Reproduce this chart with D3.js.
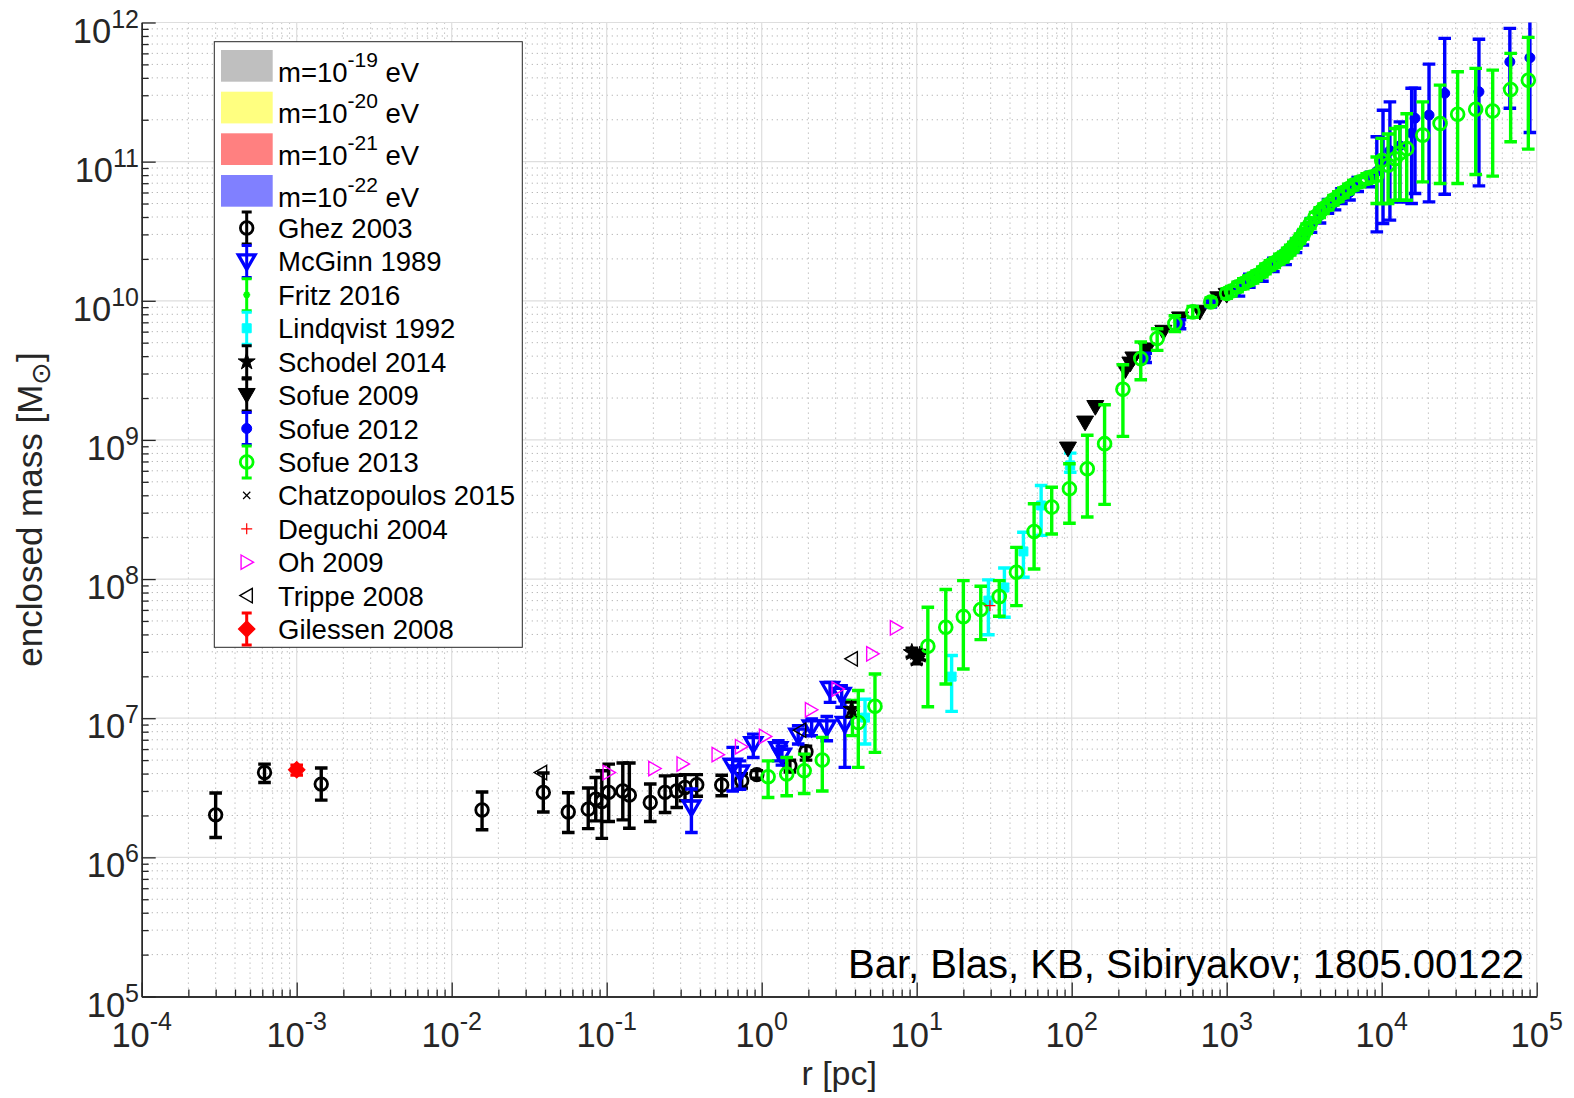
<!DOCTYPE html>
<html>
<head>
<meta charset="utf-8">
<script src="https://cdn.jsdelivr.net/npm/d3@7"></script>
<style>
  body { margin: 0; background: #fff; }
  svg { display: block; }
  text { font-family: "Liberation Sans", Arial, Helvetica, sans-serif; }
</style>
</head>
<body>
<svg id="chart" width="1574" height="1098"></svg>
<script>
// Enclosed mass of the Milky Way vs. radius — compiled measurements.
// Each row: [r (pc), M (Msun), M lower, M upper]; rows without bounds have no error bar.

const ghez2003 = [
  [3.0e-4, 2.02e6, 1.39e6, 2.90e6], [6.2e-4, 4.07e6, 3.45e6, 4.68e6], [1.44e-3, 3.36e6, 2.58e6, 4.39e6],
  [0.0157, 2.19e6, 1.58e6, 2.95e6], [0.039, 2.93e6, 2.12e6, 4.04e6], [0.0565, 2.12e6, 1.51e6, 2.91e6],
  [0.076, 2.22e6, 1.61e6, 3.15e6], [0.085, 2.62e6, 1.83e6, 3.75e6], [0.093, 2.52e6, 1.37e6, 4.19e6],
  [0.103, 2.93e6, 1.81e6, 4.68e6], [0.127, 3.00e6, 1.86e6, 4.76e6], [0.14, 2.80e6, 1.62e6, 4.76e6],
  [0.191, 2.48e6, 1.81e6, 3.37e6], [0.238, 2.93e6, 2.10e6, 3.85e6], [0.283, 3.00e6, 2.28e6, 3.89e6],
  [0.32, 3.18e6, 2.55e6, 3.93e6], [0.381, 3.33e6, 2.75e6, 3.93e6], [0.552, 3.31e6, 2.77e6, 3.89e6],
  [0.743, 3.55e6, 3.15e6, 4.00e6], [0.93, 3.93e6, 3.70e6, 4.20e6], [1.52, 4.55e6, 4.10e6, 5.00e6],
  [1.93, 5.74e6, 5.00e6, 6.30e6]
];

const mcginn1989 = [
  [0.352, 2.28e6, 1.51e6, 3.10e6], [0.65, 4.55e6, 3.00e6, 6.17e6], [0.725, 4.07e6, 3.09e6, 4.94e6],
  [0.883, 6.50e6, 5.22e6, 7.69e6], [1.28, 6.00e6, 4.94e6, 6.89e6], [1.35, 5.37e6, 4.60e6, 6.30e6],
  [1.72, 7.48e6, 6.52e6, 8.83e6], [2.10, 8.60e6, 7.48e6, 9.86e6], [2.63, 8.60e6, 6.89e6, 1.03e7],
  [2.76, 1.62e7, 1.30e7, 1.81e7], [3.28, 1.47e7, 1.20e7, 1.71e7], [3.44, 9.10e6, 4.43e6, 1.34e7]
];

const fritz2016 = [
  [3.85, 1.05e7, 7.5e6, 1.34e7]
];

const lindqvist1992 = [
  [4.64, 1.01e7, 6.52e6, 1.37e7], [16.8, 1.99e7, 1.12e7, 2.82e7], [29.0, 7.00e7, 3.98e7, 9.86e7],
  [36.8, 8.70e7, 5.31e7, 1.20e8], [48.8, 1.58e8, 1.03e8, 2.17e8], [63.5, 3.38e8, 2.06e8, 4.71e8],
  [97.8, 6.56e8, 5.86e8, 8.04e8]
];

const schodel2014 = [
  [3.80, 1.16e7, 1.02e7, 1.30e7], [9.3, 2.97e7, 2.75e7, 3.20e7], [10.0, 2.67e7, 2.45e7, 2.90e7],
  [10.5, 2.85e7, 2.62e7, 3.08e7]
];

const sofue2009 = [
  [94.6, 8.65e8], [122, 1.33e9], [142, 1.72e9], [222, 3.16e9], [239, 3.53e9], [250, 3.84e9],
  [305, 4.46e9], [390, 5.97e9], [500, 7.45e9], [671, 8.32e9], [883, 1.04e10], [1000, 1.10e10]
];

const sofue2012 = [
  [300, 3.90e9, 3.6e9, 4.2e9], [500, 6.80e9, 6.3e9, 7.3e9], [790, 9.6e9, 9.0e9, 1.02e10],
  [1200, 1.22e10, 1.08e10, 1.36e10], [1400, 1.40e10, 1.25e10, 1.55e10], [1700, 1.55e10, 1.38e10, 1.72e10],
  [2000, 1.82e10, 1.62e10, 2.02e10], [2400, 2.05e10, 1.82e10, 2.28e10], [2800, 2.50e10, 2.22e10, 2.78e10],
  [3100, 2.85e10, 2.52e10, 3.18e10], [3500, 3.50e10, 3.10e10, 3.90e10], [4000, 4.10e10, 3.62e10, 4.58e10],
  [4500, 4.80e10, 4.25e10, 5.35e10], [5000, 5.10e10, 4.50e10, 5.70e10], [5500, 5.70e10, 5.0e10, 6.4e10],
  [6200, 6.00e10, 5.3e10, 6.7e10], [7000, 6.90e10, 6.1e10, 7.7e10], [8500, 7.50e10, 6.6e10, 8.4e10],
  [9.3e3, 8.5e10, 3.13e10, 1.51e11], [1.02e4, 1.00e11, 3.59e10, 2.34e11], [1.13e4, 1.20e11, 3.80e10, 2.69e11],
  [1.31e4, 1.30e11, 5.13e10, 1.93e11], [1.56e4, 1.60e11, 5.00e10, 3.37e11], [1.64e4, 2.05e11, 5.9e10, 3.37e11],
  [2.02e4, 2.16e11, 5.14e10, 5.02e11], [2.55e4, 3.10e11, 5.83e10, 7.69e11], [4.24e4, 3.18e11, 6.70e10, 7.57e11],
  [6.71e4, 5.22e11, 2.42e11, 9.08e11], [9.04e4, 5.58e11, 1.62e11, 1.05e12]
];

const sofue2013 = [
  [1.10, 3.80e6, 2.69e6, 4.94e6], [1.45, 3.97e6, 2.77e6, 5.22e6], [1.88, 4.19e6, 2.88e6, 5.52e6],
  [2.46, 5.00e6, 3.00e6, 7.28e6], [4.20, 9.30e6, 4.43e6, 1.58e7], [5.38, 1.22e7, 5.68e6, 2.08e7],
  [11.8, 3.29e7, 1.21e7, 6.27e7], [15.4, 4.50e7, 1.76e7, 8.41e7], [20.0, 5.37e7, 2.26e7, 9.75e7],
  [25.9, 6.04e7, 3.67e7, 8.87e7], [34.1, 7.48e7, 5.40e7, 9.75e7], [44.0, 1.12e8, 6.44e7, 1.69e8],
  [57.2, 2.20e8, 1.18e8, 3.48e8], [74.3, 3.29e8, 2.11e8, 4.57e8], [96.7, 4.46e8, 2.52e8, 6.75e8],
  [126, 6.20e8, 2.79e8, 1.08e9], [163, 9.40e8, 3.44e8, 1.79e9], [214, 2.31e9, 1.06e9, 3.47e9],
  [279, 3.84e9, 2.71e9, 5.06e9], [356, 5.35e9, 4.40e9, 6.30e9], [463, 6.86e9, 6.00e9, 7.80e9],
  [604, 8.32e9, 7.60e9, 9.10e9], [789, 9.80e9, 9.20e9, 1.05e10], [1000, 1.13e10, 1.04e10, 1.22e10],
  [1072, 1.175e10, 1.08e10, 1.27e10], [1175, 1.26e10, 1.16e10, 1.36e10], [1280, 1.33e10, 1.22e10, 1.44e10],
  [1380, 1.40e10, 1.29e10, 1.51e10], [1479, 1.46e10, 1.34e10, 1.58e10], [1560, 1.52e10, 1.40e10, 1.64e10],
  [1698, 1.62e10, 1.49e10, 1.75e10], [1778, 1.70e10, 1.56e10, 1.84e10], [1900, 1.80e10, 1.66e10, 1.94e10],
  [2042, 1.88e10, 1.73e10, 2.03e10], [2188, 2.00e10, 1.84e10, 2.16e10], [2320, 2.07e10, 1.90e10, 2.24e10],
  [2455, 2.21e10, 2.03e10, 2.39e10], [2570, 2.32e10, 2.13e10, 2.51e10], [2690, 2.44e10, 2.24e10, 2.64e10],
  [2818, 2.60e10, 2.39e10, 2.81e10], [2970, 2.80e10, 2.58e10, 3.02e10], [3126, 3.02e10, 2.78e10, 3.26e10],
  [3280, 3.30e10, 3.04e10, 3.56e10], [3467, 3.59e10, 3.30e10, 3.88e10], [3720, 4.00e10, 3.68e10, 4.32e10],
  [3981, 4.32e10, 3.97e10, 4.67e10], [4210, 4.60e10, 4.23e10, 4.97e10], [4519, 4.90e10, 4.51e10, 5.29e10],
  [4880, 5.30e10, 4.88e10, 5.72e10], [5248, 5.62e10, 5.17e10, 6.07e10], [5660, 6.00e10, 5.52e10, 6.48e10],
  [6095, 6.38e10, 5.87e10, 6.89e10], [6560, 6.78e10, 6.24e10, 7.32e10], [7244, 7.16e10, 6.59e10, 7.73e10],
  [8000, 7.57e10, 6.96e10, 8.18e10], [8610, 7.76e10, 7.14e10, 8.38e10],
  [9290, 8.00e10, 5.00e10, 1.08e11], [1.00e4, 1.02e11, 5.00e10, 1.47e11],
  [1.10e4, 9.44e10, 5.00e10, 1.58e11], [1.22e4, 1.05e11, 5.28e10, 1.73e11], [1.31e4, 1.15e11, 5.28e10, 1.78e11],
  [1.45e4, 1.24e11, 5.28e10, 2.21e11], [1.84e4, 1.55e11, 7.16e10, 2.69e11], [2.38e4, 1.88e11, 6.97e10, 3.55e11],
  [3.09e4, 2.19e11, 6.97e10, 4.43e11], [4.04e4, 2.38e11, 8.09e10, 4.68e11], [5.20e4, 2.31e11, 7.87e10, 4.55e11],
  [6.79e4, 3.30e11, 1.39e11, 6.00e11], [8.83e4, 3.85e11, 1.23e11, 7.82e11]
];

const chatzopoulos2015 = [[3.9, 1.08e7], [9.6, 2.80e7], [10.3, 3.00e7], [10.8, 2.75e7]];
const deguchi2004 = [[29.7, 6.44e7]];
const oh2009 = [
  [0.103, 4.07e6], [0.203, 4.35e6], [0.309, 4.69e6], [0.52, 5.47e6], [0.736, 6.24e6],
  [1.05, 7.40e6], [2.08, 1.15e7], [3.09, 1.62e7], [5.17, 2.90e7], [7.35, 4.46e7]
];
const trippe2008 = [[0.0377, 4.07e6], [1.77, 8.20e6], [3.81, 2.67e7]];
const gilessen2008 = [[1.0e-3, 4.26e6, 3.90e6, 4.60e6]];

// Shaded-band entries shown in the legend (mass of the field)
const bandLabels = ["-19", "-20", "-21", "-22"];
const bandColors = ["#bfbfbf", "#ffff80", "#ff8080", "#8080ff"];

const xDecades = d3.range(-4, 6);
const yDecades = d3.range(5, 13);

// ---------- layout ----------
const svg = d3.select("#chart");
const L = 141.7, R = 1536.7, T = 22.5, B = 996.5;
const x = d3.scaleLog().domain([1e-4, 1e5]).range([L, R]);
const y = d3.scaleLog().domain([1e5, 1e12]).range([B, T]);
const ink = "#262626";
const FONT = 27.5;      // legend
const TICKF = 34.5;     // tick label mantissa
const SUPF = 25;        // tick label exponent

// ---------- grid ----------
const isMajor = v => Math.abs(Math.log10(v) - Math.round(Math.log10(v))) < 1e-9;
const xt = x.ticks(), yt = y.ticks();
const grid = svg.append("g");
grid.selectAll(".xm").data(xt.filter(v => !isMajor(v))).join("line")
  .attr("x1", d => x(d)).attr("x2", d => x(d)).attr("y1", T).attr("y2", B)
  .attr("stroke", "#b8b8b8").attr("stroke-width", 1).attr("stroke-dasharray", "1.3,3.7");
grid.selectAll(".ym").data(yt.filter(v => !isMajor(v))).join("line")
  .attr("y1", d => y(d)).attr("y2", d => y(d)).attr("x1", L).attr("x2", R)
  .attr("stroke", "#b8b8b8").attr("stroke-width", 1).attr("stroke-dasharray", "1.3,3.7");
grid.selectAll(".xM").data(xDecades.map(e => Math.pow(10, e))).join("line")
  .attr("x1", d => x(d)).attr("x2", d => x(d)).attr("y1", T).attr("y2", B)
  .attr("stroke", "#dedede").attr("stroke-width", 1.2);
grid.selectAll(".yM").data(yDecades.map(e => Math.pow(10, e))).join("line")
  .attr("y1", d => y(d)).attr("y2", d => y(d)).attr("x1", L).attr("x2", R)
  .attr("stroke", "#dedede").attr("stroke-width", 1.2);

// ---------- axes ----------
function styleAxis(g) {
  g.selectAll("path,line").attr("stroke", ink).attr("stroke-width", 1.3);
  g.selectAll("text").remove();
}
const xMaj = xDecades.map(e => Math.pow(10, e));
const yMaj = yDecades.map(e => Math.pow(10, e));
svg.append("g").attr("transform", `translate(0,${B})`)
  .call(d3.axisBottom(x).tickValues(xt.filter(v => !isMajor(v))).tickSize(-7).tickSizeOuter(0).tickFormat(""))
  .call(styleAxis);
svg.append("g").attr("transform", `translate(0,${B})`)
  .call(d3.axisBottom(x).tickValues(xMaj).tickSize(-14).tickSizeOuter(0).tickFormat(""))
  .call(styleAxis);
svg.append("g").attr("transform", `translate(${L},0)`)
  .call(d3.axisLeft(y).tickValues(yt.filter(v => !isMajor(v))).tickSize(-7).tickSizeOuter(0).tickFormat(""))
  .call(styleAxis);
svg.append("g").attr("transform", `translate(${L},0)`)
  .call(d3.axisLeft(y).tickValues(yMaj).tickSize(-14).tickSizeOuter(0).tickFormat(""))
  .call(styleAxis);

// tick labels as 10^n
const xl = svg.append("g").selectAll("text").data(xDecades).join("text")
  .attr("x", e => x(Math.pow(10, e))).attr("y", B + 50)
  .attr("text-anchor", "middle").attr("font-size", TICKF).attr("fill", ink);
xl.append("tspan").text("10");
xl.append("tspan").attr("dy", -17).attr("font-size", SUPF).text(e => String(e));

const yl = svg.append("g").selectAll("text").data(yDecades).join("text")
  .attr("x", 139).attr("y", e => y(Math.pow(10, e)) + 20)
  .attr("text-anchor", "end").attr("font-size", TICKF).attr("fill", ink);
yl.append("tspan").text("10");
yl.append("tspan").attr("dy", -15).attr("font-size", SUPF).text(e => String(e));

// axis titles
svg.append("text").attr("x", (L + R) / 2).attr("y", 1085).attr("text-anchor", "middle")
  .attr("font-size", 34).attr("fill", ink).text("r [pc]");
const yt2 = svg.append("text").attr("transform", `translate(42,${(T + B) / 2}) rotate(-90)`)
  .attr("text-anchor", "middle").attr("font-size", 35).attr("fill", ink);
yt2.append("tspan").text("enclosed mass [M");
yt2.append("tspan").attr("dy", 8).attr("font-size", 27).attr("font-family", "DejaVu Sans").text("\u2299");
yt2.append("tspan").attr("dy", -8).text("]");

// ---------- markers ----------
function markerPath(shape, s) {
  switch (shape) {
    case "tridown": return `M${-s},${-s * 0.78}L${s},${-s * 0.78}L0,${s * 0.95}Z`;
    case "triright": return `M${-s * 0.78},${-s}L${s * 0.95},0L${-s * 0.78},${s}Z`;
    case "trileft": return `M${s * 0.78},${-s}L${-s * 0.95},0L${s * 0.78},${s}Z`;
    case "square": return `M${-s},${-s}H${s}V${s}H${-s}Z`;
    case "diamond": return `M0,${-s}L${s},0L0,${s}L${-s},0Z`;
    case "plus": return `M${-s},0H${s}M0,${-s}V${s}`;
    case "x": return `M${-s},${-s}L${s},${s}M${-s},${s}L${s},${-s}`;
    case "asterisk": return `M${-s},0H${s}M0,${-s}V${s}M${-s * 0.7},${-s * 0.7}L${s * 0.7},${s * 0.7}M${-s * 0.7},${s * 0.7}L${s * 0.7},${-s * 0.7}`;
    case "star": return d3.symbol(d3.symbolStar, s * s * 1.6)();
    case "circle": return d3.symbol(d3.symbolCircle, Math.PI * s * s)();
  }
}

const series = [
  { name: "Ghez 2003", data: ghez2003, color: "#000000", shape: "circle", size: 6.3, fill: false, sw: 2.8, ew: 3.4 },
  { name: "McGinn 1989", data: mcginn1989, color: "#0000ff", shape: "tridown", size: 8.4, fill: false, sw: 3.3, ew: 3.4 },
  { name: "Fritz 2016", data: fritz2016, color: "#00ff00", shape: "asterisk", size: 3.5, fill: false, sw: 2, ew: 3.4 },
  { name: "Lindqvist 1992", data: lindqvist1992, color: "#00ffff", shape: "square", size: 4.5, fill: true, sw: 1, ew: 3.4 },
  { name: "Schodel 2014", data: schodel2014, color: "#000000", shape: "star", size: 7.5, fill: true, sw: 1, ew: 3 },
  { name: "Sofue 2009", data: sofue2009, color: "#000000", shape: "tridown", size: 8.5, fill: true, sw: 1, ew: 3.4 },
  { name: "Sofue 2012", data: sofue2012, color: "#0000ff", shape: "circle", size: 5, fill: true, sw: 1, ew: 3.4 },
  { name: "Sofue 2013", data: sofue2013, color: "#00ff00", shape: "circle", size: 6.4, fill: false, sw: 2.8, ew: 3.4 },
  { name: "Chatzopoulos 2015", data: chatzopoulos2015, color: "#000000", shape: "x", size: 3.6, fill: false, sw: 1.2, ew: 0 },
  { name: "Deguchi 2004", data: deguchi2004, color: "#ff0000", shape: "plus", size: 5.5, fill: false, sw: 1.2, ew: 0 },
  { name: "Oh 2009", data: oh2009, color: "#ff00ff", shape: "triright", size: 7.2, fill: false, sw: 1.4, ew: 0 },
  { name: "Trippe 2008", data: trippe2008, color: "#000000", shape: "trileft", size: 7.2, fill: false, sw: 1.4, ew: 0 },
  { name: "Gilessen 2008", data: gilessen2008, color: "#ff0000", shape: "diamond", size: 8, fill: true, sw: 1.5, ew: 3.4 }
];

svg.append("clipPath").attr("id", "plotclip")
  .append("rect").attr("x", L).attr("y", T).attr("width", R - L).attr("height", B - T);
const plot = svg.append("g").attr("clip-path", "url(#plotclip)");
const CAP = 6.3;

function drawMarker(g, s) {
  g.append("path").attr("d", markerPath(s.shape, s.size))
    .attr("fill", s.fill ? s.color : "none")
    .attr("stroke", s.color).attr("stroke-width", s.sw).attr("stroke-linejoin", "miter");
}

series.forEach(s => {
  const g = plot.append("g");
  const withErr = s.data.filter(d => d.length === 4);
  const eb = g.append("g").attr("stroke", s.color).attr("stroke-width", s.ew).attr("fill", "none");
  eb.selectAll("path").data(withErr).join("path")
    .attr("d", d => {
      const cx = x(d[0]), y1 = y(d[2]), y2 = y(d[3]);
      return `M${cx},${y1}V${y2}M${cx - CAP},${y1}H${cx + CAP}M${cx - CAP},${y2}H${cx + CAP}`;
    });
  g.selectAll("g.m").data(s.data).join("g").attr("class", "m")
    .attr("transform", d => `translate(${x(d[0])},${y(d[1])})`)
    .each(function () { drawMarker(d3.select(this), s); });
});

// ---------- annotation ----------
svg.append("text").attr("x", 1524).attr("y", 978).attr("text-anchor", "end")
  .attr("font-size", 40).attr("fill", "#000").text("Bar, Blas, KB, Sibiryakov; 1805.00122");

// ---------- legend ----------
const lg = svg.append("g");
lg.append("rect").attr("x", 214.3).attr("y", 41.7).attr("width", 308).attr("height", 605.6)
  .attr("fill", "#fff").attr("stroke", ink).attr("stroke-width", 1);
const bandTop = [50, 91.7, 133.3, 175];
bandLabels.forEach((lab, i) => {
  lg.append("rect").attr("x", 221).attr("y", bandTop[i]).attr("width", 51.7).attr("height", 31.7)
    .attr("fill", bandColors[i]);
  const t = lg.append("text").attr("x", 278).attr("y", bandTop[i] + 31.5)
    .attr("font-size", FONT).attr("fill", "#000");
  t.append("tspan").text("m=10");
  t.append("tspan").attr("dy", -15).attr("font-size", 21).text(lab);
  t.append("tspan").attr("dy", 15).text(" eV");
});
const rowY0 = 228, rowDY = 33.42, mx = 246.7;
const withBars = new Set(["Ghez 2003", "McGinn 1989", "Fritz 2016", "Lindqvist 1992", "Schodel 2014",
  "Sofue 2009", "Sofue 2012", "Sofue 2013", "Gilessen 2008"]);
series.forEach((s, i) => {
  const cy = rowY0 + i * rowDY;
  const g = lg.append("g").attr("transform", `translate(${mx},${cy})`);
  if (withBars.has(s.name)) {
    g.append("path").attr("d", `M0,-16V16M-5,-16H5M-5,16H5`)
      .attr("stroke", s.color).attr("stroke-width", 3).attr("fill", "none");
  }
  drawMarker(g, s);
  lg.append("text").attr("x", 278).attr("y", cy + 10).attr("font-size", FONT).attr("fill", "#000").text(s.name);
});
</script>
</body>
</html>
